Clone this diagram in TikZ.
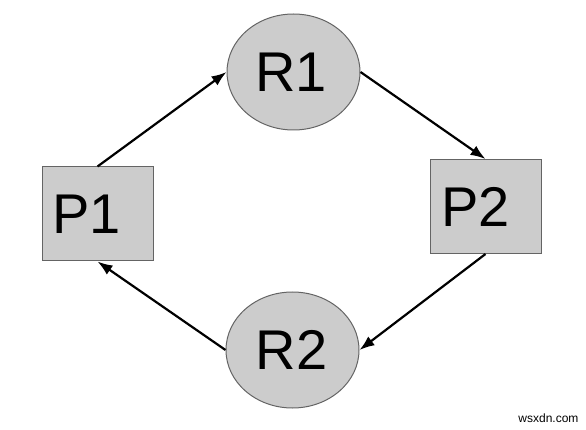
\documentclass[tikz,border=0pt]{standalone}
\usepackage{fontspec}
\setmainfont{Liberation Sans}
\usetikzlibrary{shapes.geometric,arrows.meta}
\definecolor{boxgray}{RGB}{204,204,204}
\definecolor{edgegray}{RGB}{100,100,100}
\begin{document}
\begin{tikzpicture}[x=1pt,y=-1pt,
  proc/.style={draw=edgegray,line width=1pt,fill=boxgray,minimum width=111pt,minimum height=94pt,inner sep=0pt,font=\fontsize{56}{60}\selectfont},
  res/.style={ellipse,draw=edgegray,line width=1pt,fill=boxgray,minimum width=133pt,minimum height=116pt,inner sep=0pt,font=\fontsize{56}{60}\selectfont},
  link/.style={line width=2.2pt,-{Latex[length=15pt,width=11pt]}}]
\useasboundingbox (0,0) rectangle (586,430);
\node[proc] (P1) at (97.5,214) {P1\hspace*{22pt}};
\node[proc] (P2) at (485.5,206.5) {P2\hspace*{20pt}};
\node[res] (R1) at (293.5,72) {R1\hspace*{5pt}};
\node[res] (R2) at (292.5,350) {R2\hspace*{2pt}};
\draw[link] (P1.north) -- (R1.west);
\draw[link] (R1.east) -- (P2.north);
\draw[link] (P2.south) -- (R2.east);
\draw[link] (R2.west) -- (P1.south);
\node[font=\fontsize{12}{14}\selectfont,anchor=east] (wm) at (582,418) {wsxdn.com};
\end{tikzpicture}
\end{document}
